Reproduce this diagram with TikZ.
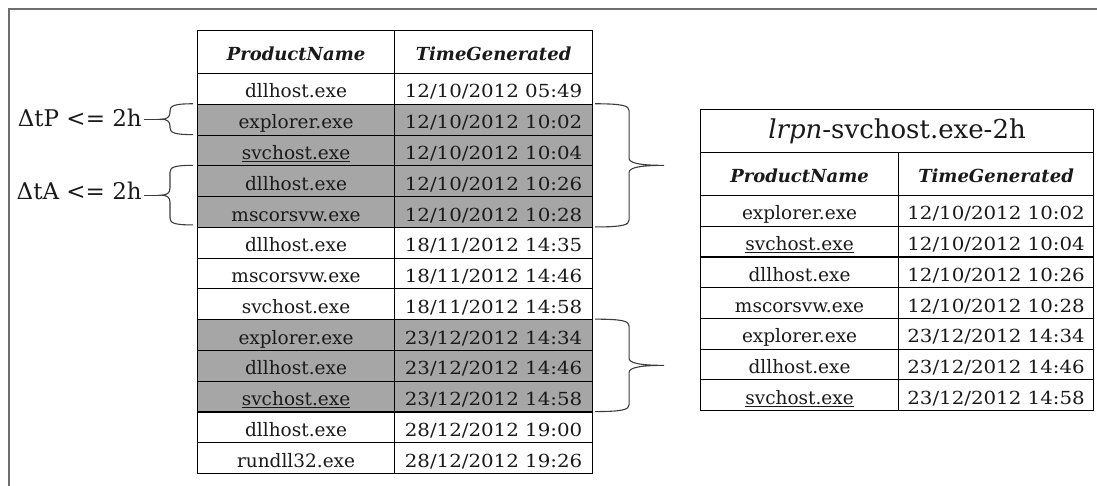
\documentclass[tikz,border=0pt]{standalone}
\usepackage{fontspec}
\setmainfont{DejaVu Serif}
\newfontfamily\stampfamily[FakeStretch=1.1]{DejaVu Serif}
\usetikzlibrary{calc}

\definecolor{shade}{HTML}{A6A6A6}
\definecolor{framegray}{HTML}{6E6E6E}
\definecolor{bracegray}{HTML}{3C3C3C}
\definecolor{ink}{HTML}{1A1A1A}

\newcommand\namefont{\fontsize{18.5}{21}\selectfont}
\newcommand\stampfont{\stampfamily\fontsize{18}{21}\selectfont}

\tikzset{
  cell/.style={draw=black, line width=1.1pt, inner sep=0pt, anchor=north west, text=ink,
    minimum height=30.77pt, text height=20pt, text depth=2pt},
  namecol/.style={minimum width=197pt, font=\namefont},
  timecol/.style={minimum width=198pt, font=\stampfont},
  hdr/.style={cell, minimum height=43pt, text height=20pt, text depth=3pt,
    font=\fontsize{18}{21}\selectfont\bfseries\itshape},
  hit/.style={fill=shade},
  bracepen/.style={draw=bracegray, line width=1.1pt},
  biglabel/.style={font=\fontsize{23}{27}\selectfont, inner sep=2pt, text=ink},
}

% one data row of the event log table
\newcommand\logrow[4]{%
  \node[cell,namecol,#4] (L#1a) at (197,{73+30.77*(#1-1)}) {#2};
  \node[cell,timecol,#4] (L#1b) at (394,{73+30.77*(#1-1)}) {#3};
}
% one data row of the extracted pattern table
\newcommand\patrow[3]{%
  \node[cell,namecol,minimum width=198pt] (R#1a) at (700,{195+30.71*(#1-1)}) {#2};
  \node[cell,timecol,minimum width=195pt] (R#1b) at (898,{195+30.71*(#1-1)}) {#3};
}
% curly brace between two end points; #3 arm length, #4 tip length (signed), #5 tip name
\newcommand\curly[5]{%
  \path (#1) coordinate (cbT) (#2) coordinate (cbB) ($(cbT)!0.5!(cbB)$) coordinate (cbM);
  \draw[bracepen] (cbT) .. controls +({0.82*(#3)},0) and +(0,-5) .. ($(cbT)+(#3,7)$)
    -- ($(cbM)+(#3,-7)$) .. controls +(0,5) and +({-0.65*(#4)},0) .. ($(cbM)+({(#3)+(#4)},0)$) coordinate (#5)
    .. controls +({-0.65*(#4)},0) and +(0,-5) .. ($(cbM)+(#3,7)$)
    -- ($(cbB)+(#3,-7)$) .. controls +(0,5) and +({0.82*(#3)},0) .. (cbB);
}

\begin{document}
\begin{tikzpicture}[x=1pt,y=-1pt]
  \useasboundingbox (0,0) rectangle (1097,486);
  % page frame
  \draw[framegray, line width=1.6pt] (9,486) -- (9,9) -- (1097,9);

  % event log table
  \node[hdr,minimum width=197pt] (LHa) at (197,30) {ProductName};
  \node[hdr,minimum width=198pt] (LHb) at (394,30) {TimeGenerated};
  \logrow{1}{dllhost.exe}{12/10/2012 05:49}{}
  \logrow{2}{explorer.exe}{12/10/2012 10:02}{hit}
  \logrow{3}{\underline{svchost.exe}}{12/10/2012 10:04}{hit}
  \logrow{4}{dllhost.exe}{12/10/2012 10:26}{hit}
  \logrow{5}{mscorsvw.exe}{12/10/2012 10:28}{hit}
  \logrow{6}{dllhost.exe}{18/11/2012 14:35}{}
  \logrow{7}{mscorsvw.exe}{18/11/2012 14:46}{}
  \logrow{8}{svchost.exe}{18/11/2012 14:58}{}
  \logrow{9}{explorer.exe}{23/12/2012 14:34}{hit}
  \logrow{10}{dllhost.exe}{23/12/2012 14:46}{hit}
  \logrow{11}{\underline{svchost.exe}}{23/12/2012 14:58}{hit}
  \logrow{12}{dllhost.exe}{28/12/2012 19:00}{}
  \logrow{13}{rundll32.exe}{28/12/2012 19:26}{}

  % extracted pattern table
  \node[cell,minimum width=393pt,minimum height=43pt,text height=20pt,text depth=5pt,
    font=\fontsize{26}{30}\selectfont] (RT) at (700,109) {\textit{lrpn}-svchost.exe-2h};
  \node[hdr,minimum width=198pt] (RHa) at (700,152) {ProductName};
  \node[hdr,minimum width=195pt] (RHb) at (898,152) {TimeGenerated};
  \patrow{1}{explorer.exe}{12/10/2012 10:02}
  \patrow{2}{\underline{svchost.exe}}{12/10/2012 10:04}
  \patrow{3}{dllhost.exe}{12/10/2012 10:26}
  \patrow{4}{mscorsvw.exe}{12/10/2012 10:28}
  \patrow{5}{explorer.exe}{23/12/2012 14:34}
  \patrow{6}{dllhost.exe}{23/12/2012 14:46}
  \patrow{7}{\underline{svchost.exe}}{23/12/2012 14:58}

  % braces grouping the matched episodes
  \curly{$(L2b.north east)+(2,0)$}{$(L5b.south east)+(2,-1)$}{34}{35}{epiA}
  \curly{$(L9b.north east)+(2,0)$}{$(L11b.south east)+(2,-1)$}{34}{35}{epiB}

  % time-window annotations
  \curly{$(L2a.north west)+(-4,0)$}{$(L2a.south west)+(-4,-1)$}{-23}{-9}{tipP}
  \curly{$(L4a.north west)+(-4,0)$}{$(L5a.south west)+(-4,-3)$}{-23}{-9}{tipA}
  \node[biglabel, anchor=base east] (dtP) at (144,127) {ΔtP <= 2h};
  \node[biglabel, anchor=base east] (dtA) at (144,200) {ΔtA <= 2h};
  \draw[bracepen] (tipP) -- (tipP -| dtP.east);
  \draw[bracepen] (tipA) -- (tipA -| dtA.east);
\end{tikzpicture}
\end{document}
